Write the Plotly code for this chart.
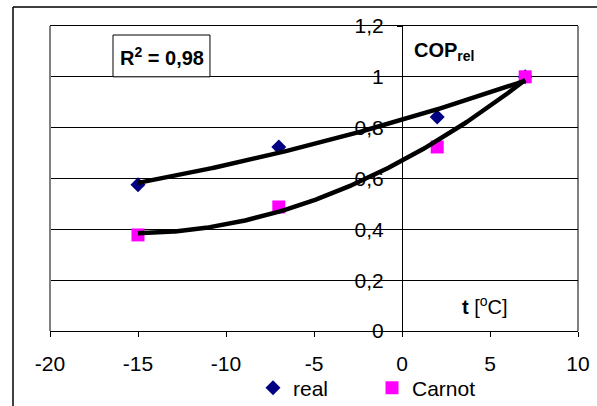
import numpy as np
import plotly.graph_objects as go

# Data
t_values = [-15, -7, 2, 7]
real_values = [0.575, 0.724, 0.842, 1.0]
carnot_values = [0.378, 0.488, 0.724, 1.0]

x_ticks = [-20, -15, -10, -5, 0, 5, 10]
y_ticks = [0, 0.2, 0.4, 0.6, 0.8, 1.0, 1.2]
y_tick_labels = ["0", "0,2", "0,4", "0,6", "0,8", "1", "1,2"]

FONT = "Liberation Sans, Arial, sans-serif"
FS = 20
FS_TICK = 21

# Polynomial (order 2) trend lines, like Excel
xs = np.linspace(min(t_values), max(t_values), 200)
fit_real = np.polyval(np.polyfit(t_values, real_values, 2), xs)
fit_carnot = np.polyval(np.polyfit(t_values, carnot_values, 2), xs)

fig = go.Figure()
fig.add_trace(go.Scatter(
    x=t_values, y=real_values, mode="markers", name="real",
    marker=dict(symbol="diamond", size=11.5, color="#000080"),
))
fig.add_trace(go.Scatter(
    x=t_values, y=carnot_values, mode="markers", name="Carnot",
    marker=dict(symbol="square", size=13, color="#FF00FF"),
))
fig.add_trace(go.Scatter(
    x=xs, y=fit_real, mode="lines", showlegend=False, hoverinfo="skip",
    line=dict(color="black", width=4.5),
))
fig.add_trace(go.Scatter(
    x=xs, y=fit_carnot, mode="lines", showlegend=False, hoverinfo="skip",
    line=dict(color="black", width=4.5),
))

fig.update_layout(
    width=597, height=406, autosize=False,
    margin=dict(l=50, r=19, t=26, b=75, autoexpand=False),
    paper_bgcolor="white", plot_bgcolor="white",
    font=dict(family=FONT, size=FS, color="black"),
    showlegend=True,
    legend=dict(
        orientation="h", x=(253 - 50) / 528, xanchor="left",
        y=(331 - 388) / 305, yanchor="middle",
        font=dict(family=FONT, size=FS_TICK, color="black"),
        bgcolor="rgba(0,0,0,0)", entrywidth=74, entrywidthmode="pixels",
        itemclick=False,
    ),
    xaxis=dict(
        range=[-20, 10], tickvals=x_ticks, ticktext=[str(v) for v in x_ticks],
        showgrid=False, zeroline=False, automargin=False,
        showline=True, linecolor="black", linewidth=1, mirror=True,
        ticks="outside", ticklen=5, tickcolor="black",
        ticklabelstandoff=9,
        tickfont=dict(family=FONT, size=FS_TICK, color="black"),
    ),
    yaxis=dict(
        range=[0, 1.2], tickvals=y_ticks, ticktext=y_tick_labels,
        showgrid=True, gridcolor="black", gridwidth=1,
        zeroline=False, automargin=False,
        showline=True, linecolor="black", linewidth=1,
        anchor="free", position=2 / 3,
        ticks="outside", ticklen=5, tickcolor="black",
        ticklabelstandoff=9,
        tickfont=dict(family=FONT, size=FS_TICK, color="black"),
    ),
    shapes=[
        # right border of plot area
        dict(type="line", xref="paper", yref="paper", x0=1, x1=1, y0=0, y1=1,
             line=dict(color="black", width=1)),
        # grey left border of plot area
        dict(type="line", xref="paper", yref="paper", x0=0, x1=0, y0=0, y1=1,
             line=dict(color="#808080", width=2)),
        # outer chart frame (top and left)
        dict(type="line", xref="paper", yref="paper",
             x0=(13 - 50) / 528, x1=(600 - 50) / 528,
             y0=(331 - 7) / 305, y1=(331 - 7) / 305,
             line=dict(color="black", width=1.5)),
        dict(type="line", xref="paper", yref="paper",
             x0=(13 - 50) / 528, x1=(13 - 50) / 528,
             y0=(331 - 7) / 305, y1=(331 - 412) / 305,
             line=dict(color="black", width=1.5)),
        # R^2 box
        dict(type="rect", xref="x", yref="y",
             x0=-16.42, x1=-10.91, y0=1.0, y1=1.1646,
             fillcolor="white", line=dict(color="black", width=1), layer="above"),
    ],
    annotations=[
        dict(x=-13.66, y=1.08, xref="x", yref="y", showarrow=False,
             text="<b>R<sup>2</sup> = 0,98</b>", xanchor="center", yanchor="middle",
             font=dict(family=FONT, size=FS, color="black")),
        dict(x=0.55, y=1.098, xref="x", yref="y", showarrow=False,
             text="<b>COP<sub>rel</sub></b>", xanchor="left", yanchor="middle",
             font=dict(family=FONT, size=FS, color="black")),
        dict(x=6.14, y=0.102, xref="x", yref="y", showarrow=False,
             text="<b>t</b> [<sup>o</sup>C]", xanchor="right", yanchor="middle",
             font=dict(family=FONT, size=FS, color="black")),
    ],
)

fig.write_html("out.html")
